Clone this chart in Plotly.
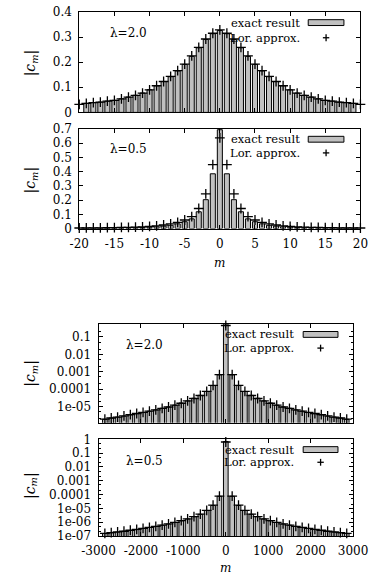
import plotly.graph_objects as go

W, H = 380, 582
FONT = "DejaVu Serif"

# ---------------- data ----------------
m_bar_lin = list(range(-19, 20))
m_lor_lin = list(range(-20, 21))
m_log = list(range(-2850, 2851, 150))

exact_20 = [0.036, 0.039, 0.041, 0.045, 0.048, 0.054, 0.061, 0.068, 0.077, 0.090,
            0.106, 0.123, 0.142, 0.165, 0.191, 0.223, 0.257, 0.290, 0.313, 0.326,
            0.313, 0.290, 0.257, 0.223, 0.191, 0.165, 0.142, 0.123, 0.106, 0.090,
            0.077, 0.068, 0.061, 0.054, 0.048, 0.045, 0.041, 0.039, 0.036]
lor_20 = [0.032, 0.036, 0.039, 0.041, 0.045, 0.048, 0.054, 0.061, 0.068, 0.077,
          0.090, 0.106, 0.123, 0.143, 0.166, 0.192, 0.225, 0.259, 0.292, 0.315,
          0.328,
          0.315, 0.292, 0.259, 0.225, 0.192, 0.166, 0.143, 0.123, 0.106, 0.090,
          0.077, 0.068, 0.061, 0.054, 0.048, 0.045, 0.041, 0.039, 0.036, 0.032]

exact_05 = [0.0021, 0.0024, 0.0027, 0.003, 0.0035, 0.004, 0.005, 0.006, 0.007, 0.009,
            0.012, 0.017, 0.023, 0.033, 0.048, 0.068, 0.118, 0.203, 0.385, 0.695,
            0.385, 0.203, 0.118, 0.068, 0.048, 0.033, 0.023, 0.017, 0.012, 0.009,
            0.007, 0.006, 0.005, 0.004, 0.0035, 0.003, 0.0027, 0.0024, 0.0021]
lor_05 = [0.0038, 0.0042, 0.0047, 0.0053, 0.006, 0.0067, 0.0077, 0.0088, 0.010, 0.012,
          0.015, 0.019, 0.025, 0.033, 0.044, 0.060, 0.084, 0.141, 0.244, 0.449,
          0.638,
          0.449, 0.244, 0.141, 0.084, 0.060, 0.044, 0.033, 0.025, 0.019, 0.015,
          0.012, 0.010, 0.0088, 0.0077, 0.0067, 0.006, 0.0053, 0.0047, 0.0042, 0.0038]

exact_log20 = [1.85e-6, 2.2e-6, 2.5e-6, 2.8e-6, 3.3e-6, 3.9e-6, 4.5e-6, 5.4e-6, 6.4e-6, 8.0e-6,
               9.5e-6, 1.2e-5, 1.6e-5, 2.1e-5, 3.0e-5, 4.4e-5, 7.3e-5, 1.6e-4, 6.6e-4, 0.55,
               6.6e-4, 1.6e-4, 7.3e-5, 4.4e-5, 3.0e-5, 2.1e-5, 1.6e-5, 1.2e-5, 9.5e-6, 8.0e-6,
               6.4e-6, 5.4e-6, 4.5e-6, 3.9e-6, 3.3e-6, 2.8e-6, 2.5e-6, 2.2e-6, 1.85e-6]
lor_log20 = [1.9e-6, 2.2e-6, 2.5e-6, 2.9e-6, 3.4e-6, 4.0e-6, 4.6e-6, 5.4e-6, 6.4e-6, 7.8e-6,
             9.4e-6, 1.2e-5, 1.55e-5, 2.1e-5, 2.9e-5, 4.3e-5, 7.4e-5, 1.65e-4, 6.8e-4, 0.45,
             6.8e-4, 1.65e-4, 7.4e-5, 4.3e-5, 2.9e-5, 2.1e-5, 1.55e-5, 1.2e-5, 9.4e-6, 7.8e-6,
             6.4e-6, 5.4e-6, 4.6e-6, 4.0e-6, 3.4e-6, 2.9e-6, 2.5e-6, 2.2e-6, 1.9e-6]

exact_log05 = [1.5e-7, 1.7e-7, 1.9e-7, 2.2e-7, 2.5e-7, 2.9e-7, 3.5e-7, 4.1e-7, 4.9e-7, 6.0e-7,
               7.3e-7, 9.5e-7, 1.25e-6, 1.7e-6, 2.5e-6, 3.7e-6, 7.0e-6, 1.6e-5, 7.5e-5, 0.7,
               7.5e-5, 1.6e-5, 7.0e-6, 3.7e-6, 2.5e-6, 1.7e-6, 1.25e-6, 9.5e-7, 7.3e-7, 6.0e-7,
               4.9e-7, 4.1e-7, 3.5e-7, 2.9e-7, 2.5e-7, 2.2e-7, 1.9e-7, 1.7e-7, 1.5e-7]
lor_log05 = [1.55e-7, 1.75e-7, 1.95e-7, 2.2e-7, 2.6e-7, 3.0e-7, 3.5e-7, 4.2e-7, 5.0e-7, 6.1e-7,
             7.5e-7, 9.7e-7, 1.3e-6, 1.75e-6, 2.5e-6, 3.8e-6, 7.2e-6, 1.7e-5, 7.8e-5, 0.64,
             7.8e-5, 1.7e-5, 7.2e-6, 3.8e-6, 2.5e-6, 1.75e-6, 1.3e-6, 9.7e-7, 7.5e-7, 6.1e-7,
             5.0e-7, 4.2e-7, 3.5e-7, 3.0e-7, 2.6e-7, 2.2e-7, 1.95e-7, 1.75e-7, 1.55e-7]

xt_lin = [-20, -15, -10, -5, 0, 5, 10, 15, 20]
xt_lin_text = ["-20", "-15", "-10", "-5", "0", "5", "10", "15", "20"]
xt_log = [-3000, -2000, -1000, 0, 1000, 2000, 3000]
xt_log_text = ["-3000", "-2000", "-1000", "0", "1000", "2000", "3000"]
yt_p1 = [0, 0.1, 0.2, 0.3, 0.4]
yt_p1_text = ["0", "0.1", "0.2", "0.3", "0.4"]
yt_p2 = [0, 0.1, 0.2, 0.3, 0.4, 0.5, 0.6, 0.7]
yt_p2_text = ["0", "0.1", "0.2", "0.3", "0.4", "0.5", "0.6", "0.7"]
yt_p3 = [1e-5, 1e-4, 1e-3, 1e-2, 1e-1]
yt_p3_text = ["1e-05", "0.0001", "0.001", "0.01", "0.1"]
yt_p4 = [1e-7, 1e-6, 1e-5, 1e-4, 1e-3, 1e-2, 1e-1, 1]
yt_p4_text = ["1e-07", "1e-06", "1e-05", "0.0001", "0.001", "0.01", "0.1", "1"]

lambda_labels = ["λ=2.0", "λ=0.5", "λ=2.0", "λ=0.5"]
legend_labels = ["exact result", "Lor. approx."]


def px(x):
    return x / W


def py(y):
    return 1 - y / H


BAR_FILL = "#c0c0c0"
fig = go.Figure()

series = [
    (m_bar_lin, exact_20, m_lor_lin, lor_20, 0.72),
    (m_bar_lin, exact_05, m_lor_lin, lor_05, 0.72),
    (m_log, exact_log20, m_log, lor_log20, 110),
    (m_log, exact_log05, m_log, lor_log05, 110),
]
for i, (mb, ev, ml, lv, w) in enumerate(series):
    sfx = "" if i == 0 else str(i + 1)
    fig.add_trace(go.Bar(x=mb, y=ev, width=w, xaxis="x" + sfx, yaxis="y" + sfx,
                         marker=dict(color=BAR_FILL, line=dict(color="black", width=1)),
                         showlegend=False))
    fig.add_trace(go.Scatter(x=ml, y=lv, mode="markers", xaxis="x" + sfx, yaxis="y" + sfx,
                             cliponaxis=False,
                             marker=dict(symbol="cross-thin", size=7, color="black",
                                         line=dict(color="black", width=1.3)),
                             showlegend=False))

common = dict(showline=True, linecolor="black", linewidth=1, mirror="allticks",
              ticks="inside", ticklen=4, tickwidth=1, tickcolor="black",
              showgrid=False, zeroline=False, tickmode="array",
              tickfont=dict(family=FONT, size=12, color="black"))

# panel pixel boxes: x0, x1, y0, y1
boxes = [(68, 375, 5, 108), (68, 375, 125, 227), (89, 367, 325, 426), (89, 367, 443, 542)]

layout = dict(width=W, height=H, margin=dict(l=0, r=0, t=0, b=0),
              plot_bgcolor="white", paper_bgcolor="white", showlegend=False,
              barmode="overlay", font=dict(family=FONT, color="black"))

xcfg = [
    dict(range=[-20, 20], tickvals=xt_lin, ticktext=xt_lin_text, showticklabels=False),
    dict(range=[-20, 20], tickvals=xt_lin, ticktext=xt_lin_text, showticklabels=True),
    dict(range=[-3000, 3000], tickvals=xt_log, ticktext=xt_log_text, showticklabels=False),
    dict(range=[-3000, 3000], tickvals=xt_log, ticktext=xt_log_text, showticklabels=True),
]
ycfg = [
    dict(range=[0, 0.4], tickvals=yt_p1, ticktext=yt_p1_text),
    dict(range=[0, 0.7], tickvals=yt_p2, ticktext=yt_p2_text),
    dict(type="log", range=[-5.93, -0.27], tickvals=yt_p3, ticktext=yt_p3_text,
         minor=dict(ticks="inside", ticklen=2, tickcolor="black", showgrid=False)),
    dict(type="log", range=[-7, 0], tickvals=yt_p4, ticktext=yt_p4_text,
         minor=dict(ticks="inside", ticklen=2, tickcolor="black", showgrid=False)),
]
for i, (x0, x1, y0, y1) in enumerate(boxes):
    sfx = "" if i == 0 else str(i + 1)
    layout["xaxis" + sfx] = dict(common, domain=[px(x0), px(x1)], anchor="y" + sfx,
                                 ticklabelstandoff=4, ticklabeloverflow="allow", **xcfg[i])
    layout["yaxis" + sfx] = dict(common, domain=[py(y1), py(y0)], anchor="x" + sfx,
                                 ticklabelstandoff=4, ticklabeloverflow="allow", **ycfg[i])

fig.update_layout(**layout)

annotations = []
shapes = []
tfont = dict(family=FONT, size=12, color="black")
lfont = dict(family=FONT, size=11.5, color="black")

# lambda labels
lam_pos = [(99, 27), (99, 146), (117, 346), (117, 465)]
for lab, (x, y) in zip(lambda_labels, lam_pos):
    annotations.append(dict(text=lab, x=px(x), y=py(y), xref="paper", yref="paper",
                            xanchor="left", yanchor="middle", showarrow=False, font=tfont))

# legends: (text right x, y row1, y row2, rect x0, rect x1, plus x)
leg = [(311, 16, 31.5, 318, 357, 337.5),
       (311, 135.5, 149.5, 318, 357, 337.5),
       (305, 335.5, 349.5, 312.5, 350.5, 331.5),
       (305, 453.5, 466.5, 312.5, 350.5, 331.5)]
for (tx, r1, r2, rx0, rx1, pxx) in leg:
    annotations.append(dict(text=legend_labels[0], x=px(tx), y=py(r1), xref="paper", yref="paper",
                            xanchor="right", yanchor="middle", showarrow=False, font=lfont))
    annotations.append(dict(text=legend_labels[1], x=px(tx), y=py(r2), xref="paper", yref="paper",
                            xanchor="right", yanchor="middle", showarrow=False, font=lfont))
    shapes.append(dict(type="rect", xref="paper", yref="paper",
                       x0=px(rx0), x1=px(rx1), y0=py(r1 - 3), y1=py(r1 + 3),
                       fillcolor=BAR_FILL, line=dict(color="black", width=1)))
    shapes.append(dict(type="line", xref="paper", yref="paper",
                       x0=px(pxx - 3.5), x1=px(pxx + 3.5), y0=py(r2), y1=py(r2),
                       line=dict(color="black", width=1.3)))
    shapes.append(dict(type="line", xref="paper", yref="paper",
                       x0=px(pxx), x1=px(pxx), y0=py(r2 - 3.5), y1=py(r2 + 3.5),
                       line=dict(color="black", width=1.3)))

# y-axis titles
for yc in [57, 177, 375, 490]:
    annotations.append(dict(text="|<i>c</i><sub><i>m</i></sub>|", x=px(15), y=py(yc),
                            xref="paper", yref="paper", xanchor="center", yanchor="middle",
                            textangle=-90, showarrow=False, font=dict(family=FONT, size=14, color="black")))
# x-axis titles
for (xc, yc) in [(221, 262), (228, 575)]:
    annotations.append(dict(text="<i>m</i>", x=px(xc), y=py(yc), xref="paper", yref="paper",
                            xanchor="center", yanchor="middle", showarrow=False, font=tfont))

fig.update_layout(annotations=annotations, shapes=shapes)
fig.write_html("out.html")
